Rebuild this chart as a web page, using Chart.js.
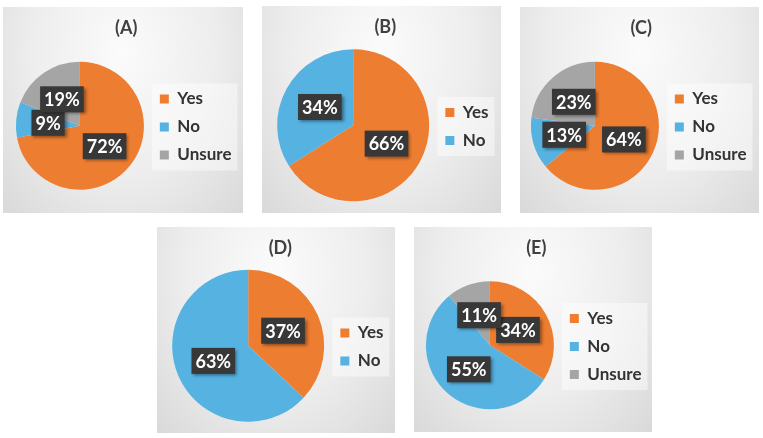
<!DOCTYPE html>
<html>
<head>
<meta charset="utf-8">
<script src="https://cdn.jsdelivr.net/npm/chart.js@4/dist/chart.umd.min.js"></script>
<style>
  body { margin: 0; background: #fff; width: 763px; height: 438px; position: relative; overflow: hidden; }
  .panel {
    position: absolute;
    background: radial-gradient(ellipse at 50% 22%, #fbfbfb 0%, #ededed 55%, #d9d9d9 100%);
  }
  .panel canvas { position: absolute; left: 0; top: 0; }
</style>
</head>
<body>
<div id="A" class="panel"></div>
<div id="B" class="panel"></div>
<div id="C" class="panel"></div>
<div id="D" class="panel"></div>
<div id="E" class="panel"></div>
<script>
// survey answers, one pie per panel
const titles = ['(A)', '(B)', '(C)', '(D)', '(E)'];
const labels3 = ['Yes', 'No', 'Unsure'];
const labels2 = ['Yes', 'No'];
const valuesA = [72, 9, 19];
const valuesB = [66, 34];
const valuesC = [64, 13, 23];
const valuesD = [37, 63];
const valuesE = [34, 55, 11];

const colors = ['#ED7D31', '#55B2E1', '#A5A5A5'];
const FONT = 'Lato, "Open Sans", sans-serif';

// panel boxes and padding to place pie + legend like the original
const panels = [
  {id: 'A', x: 3,   y: 7,   w: 240, h: 206, r: 64, pad: {left: 8, right: 1.5, top: 0, bottom: 0}, labels: labels3, values: valuesA},
  {id: 'B', x: 262, y: 6,   w: 239, h: 207, r: 76, pad: {left: 10, right: 2.5, top: 0, bottom: 0}, labels: labels2, values: valuesB},
  {id: 'C', x: 520, y: 7,   w: 239, h: 206, r: 64, pad: {left: 6, right: 2.5, top: 0, bottom: 0}, labels: labels3, values: valuesC},
  {id: 'D', x: 157, y: 227, w: 238, h: 206, r: 76, pad: {left: 10, right: 1.5, top: 0, bottom: 0}, labels: labels2, values: valuesD},
  {id: 'E', x: 414, y: 227, w: 238, h: 205, r: 64, pad: {left: 7, right: 0.5, top: 0, bottom: 0}, labels: labels3, values: valuesE}
];

// light box behind the legend entries
const legendBox = {
  id: 'legendBox',
  beforeDraw(chart) {
    const boxes = chart.legend && chart.legend.legendHitBoxes;
    if (!boxes || !boxes.length) return;
    let l = Infinity, t = Infinity, r = -Infinity, b = -Infinity;
    boxes.forEach(h => {
      l = Math.min(l, h.left); t = Math.min(t, h.top);
      r = Math.max(r, h.left + h.width); b = Math.max(b, h.top + h.height);
    });
    const ctx = chart.ctx;
    ctx.save();
    ctx.fillStyle = 'rgba(255,255,255,0.45)';
    ctx.fillRect(l - 8, t - 7, r - l + 14, b - t + 14);
    ctx.restore();
  }
};

// dark percentage tags in the middle of each slice
const sliceTags = {
  id: 'sliceTags',
  afterDatasetsDraw(chart) {
    const ctx = chart.ctx;
    const meta = chart.getDatasetMeta(0);
    const data = chart.data.datasets[0].data;
    ctx.save();
    ctx.font = 'bold 18px ' + FONT;
    ctx.textAlign = 'center';
    ctx.textBaseline = 'middle';
    meta.data.forEach((arc, i) => {
      const p = arc.tooltipPosition();
      const txt = data[i] + '%';
      const w = ctx.measureText(txt).width + 8;
      const h = 26;
      ctx.shadowColor = 'rgba(0,0,0,0.4)';
      ctx.shadowBlur = 3;
      ctx.shadowOffsetX = 2;
      ctx.shadowOffsetY = 2;
      ctx.fillStyle = '#383838';
      ctx.fillRect(p.x - w / 2, p.y - h / 2, w, h);
      ctx.shadowColor = 'transparent';
      ctx.fillStyle = '#ffffff';
      ctx.fillText(txt, p.x, p.y + 1);
    });
    ctx.restore();
  }
};

panels.forEach((pn, k) => {
  const div = document.getElementById(pn.id);
  div.style.left = pn.x + 'px';
  div.style.top = pn.y + 'px';
  div.style.width = pn.w + 'px';
  div.style.height = pn.h + 'px';
  const canvas = document.createElement('canvas');
  canvas.width = pn.w;
  canvas.height = pn.h;
  div.appendChild(canvas);

  new Chart(canvas, {
    type: 'pie',
    data: {
      labels: pn.labels,
      datasets: [{
        data: pn.values,
        backgroundColor: colors.slice(0, pn.values.length),
        borderWidth: 0,
        radius: pn.r
      }]
    },
    options: {
      responsive: false,
      animation: false,
      layout: {padding: pn.pad},
      plugins: {
        title: {
          display: true,
          text: titles[k],
          color: '#404040',
          font: {family: FONT, size: 18, weight: 'bold', lineHeight: 1.2},
          padding: {top: 10, bottom: 0}
        },
        legend: {
          position: 'right',
          // empty legend title only pushes the entries down to the pie's middle
          title: {display: true, text: '', padding: {top: 0, bottom: 19.6}},
          labels: {
            color: '#333',
            font: {family: FONT, size: 17, weight: 'bold'},
            boxWidth: 9,
            boxHeight: 9,
            padding: 11
          }
        },
        tooltip: {enabled: false}
      }
    },
    plugins: [legendBox, sliceTags]
  });
});
</script>
</body>
</html>
